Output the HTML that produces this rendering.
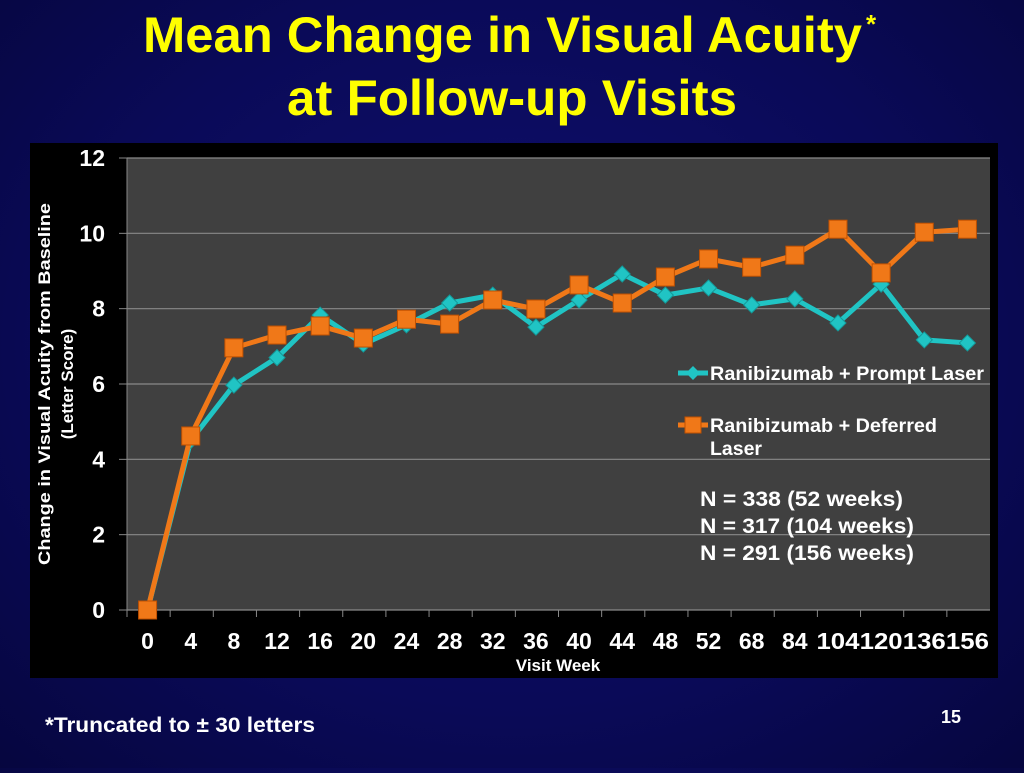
<!DOCTYPE html>
<html><head><meta charset="utf-8"><style>
body{margin:0;width:1024px;height:768px;overflow:hidden;background:radial-gradient(ellipse at 50% 45%,#10106e 0%,#0a0a58 60%,#06063f 100%);font-family:"Liberation Sans",sans-serif}
</style></head><body>
<svg width="1024" height="768">
<text x="143" y="52" font-size="50" font-weight="bold" fill="#ffff00" textLength="719" lengthAdjust="spacingAndGlyphs">Mean Change in Visual Acuity</text>
<text x="866" y="33" font-size="26" font-weight="bold" fill="#ffff00">*</text>
<text x="287" y="115" font-size="50" font-weight="bold" fill="#ffff00" textLength="450" lengthAdjust="spacingAndGlyphs">at Follow-up Visits</text>
<rect x="30" y="143" width="968" height="535" fill="#000"/>
<rect x="127" y="158" width="863" height="452" fill="#404040"/>
<g id="grid"></g><g id="lines"></g>
<text transform="translate(50,565) rotate(-90)" font-size="17" font-weight="bold" fill="#fff" textLength="362" lengthAdjust="spacingAndGlyphs">Change in Visual Acuity from Baseline</text>
<text transform="translate(73,384) rotate(-90)" text-anchor="middle" font-size="17" font-weight="bold" fill="#fff">(Letter Score)</text>
<text x="558" y="671" text-anchor="middle" font-size="17" font-weight="bold" fill="#fff">Visit Week</text>
<g>
<line x1="678" y1="373" x2="708" y2="373" stroke="#20c4c4" stroke-width="5"/><path d="M693 366 L700 373 693 380 686 373Z" fill="#20c4c4"/>
<text x="710" y="380" font-size="19" font-weight="bold" fill="#fff" textLength="274" lengthAdjust="spacingAndGlyphs">Ranibizumab + Prompt Laser</text>
<line x1="678" y1="425" x2="708" y2="425" stroke="#f07818" stroke-width="5"/><rect x="685" y="417" width="16" height="16" fill="#f07818" stroke="#c05000"/>
<text x="710" y="432" font-size="19" font-weight="bold" fill="#fff" textLength="227" lengthAdjust="spacingAndGlyphs">Ranibizumab + Deferred</text>
<text x="710" y="455" font-size="19" font-weight="bold" fill="#fff" textLength="52" lengthAdjust="spacingAndGlyphs">Laser</text>
</g>
<g font-size="21" font-weight="bold" fill="#fff">
<text x="700" y="506" textLength="203" lengthAdjust="spacingAndGlyphs">N = 338 (52 weeks)</text><text x="700" y="533" textLength="214" lengthAdjust="spacingAndGlyphs">N = 317 (104 weeks)</text><text x="700" y="560" textLength="214" lengthAdjust="spacingAndGlyphs">N = 291 (156 weeks)</text></g>
<text x="45" y="732" font-size="21" font-weight="bold" fill="#fff" textLength="270" lengthAdjust="spacingAndGlyphs">*Truncated to ± 30 letters</text>
<text x="951" y="723" text-anchor="middle" font-size="18" font-weight="bold" fill="#fff">15</text>
</svg>
<script>
const categories=["0","4","8","12","16","20","24","28","32","36","40","44","48","52","68","84","104","120","136","156"];
const promptLaser=[0,4.5,5.97,6.7,7.83,7.06,7.57,8.15,8.36,7.51,8.23,8.92,8.36,8.55,8.1,8.26,7.62,8.65,7.17,7.09];
const deferredLaser=[0,4.62,6.96,7.3,7.54,7.22,7.72,7.59,8.23,7.99,8.63,8.15,8.84,9.32,9.1,9.42,10.11,8.95,10.03,10.11];
const yTicks=[0,2,4,6,8,10,12];
const NS="http://www.w3.org/2000/svg";
const L=127,R=990,T=158,B=610,yMax=12;
const band=(R-L)/categories.length;
const xs=i=>L+band*(i+0.5)-1;
const ys=v=>B-(v/yMax)*(B-T);
function mk(t,a,p){const e=document.createElementNS(NS,t);for(const k in a)e.setAttribute(k,a[k]);p.appendChild(e);return e;}
const g=document.getElementById('grid'),lg=document.getElementById('lines');
yTicks.forEach(v=>{const y=ys(v);
const ln=mk('line',{x1:L,x2:R,y1:y,y2:y,stroke:'#8a8a8a','stroke-width':1.2},g);


mk('line',{x1:L-8,x2:L,y1:y,y2:y,stroke:'#888'},g);
const t=mk('text',{x:105,y:y+8,'text-anchor':'end','font-size':23,'font-weight':'bold',fill:'#fff'},g);t.textContent=v;

});
mk('line',{x1:L,x2:L,y1:T,y2:B,stroke:'#888'},g);
categories.forEach((c,i)=>{
mk('line',{x1:L+band*i,x2:L+band*i,y1:B,y2:B+7,stroke:'#888'},g);
const a={x:xs(i),y:649,'text-anchor':'middle','font-size':23,'font-weight':'bold',fill:'#fff'};
if(c.length>2){a.textLength=43;a.lengthAdjust='spacingAndGlyphs';}
const t=mk('text',a,g);
t.textContent=c;

});
function series(vals,col,name,marker){
const p=mk('polyline',{points:vals.map((v,i)=>xs(i)+','+ys(v)).join(' '),fill:'none',stroke:col,'stroke-width':5,'stroke-linejoin':'round'},lg);


vals.forEach((v,i)=>{const x=xs(i),y=ys(v);let m;
if(marker==='d')m=mk('path',{d:`M${x} ${y-8}L${x+8} ${y} ${x} ${y+8} ${x-8} ${y}Z`,fill:'#20c4c4',stroke:'#139a9a'},lg);
else m=mk('rect',{x:x-9,y:y-9,width:18,height:18,fill:'#f07818',stroke:'#c05000'},lg);

});}
series(promptLaser,'#20c4c4','prompt-laser','d');
series(deferredLaser,'#f07818','deferred-laser','s');
</script>
</body></html>
